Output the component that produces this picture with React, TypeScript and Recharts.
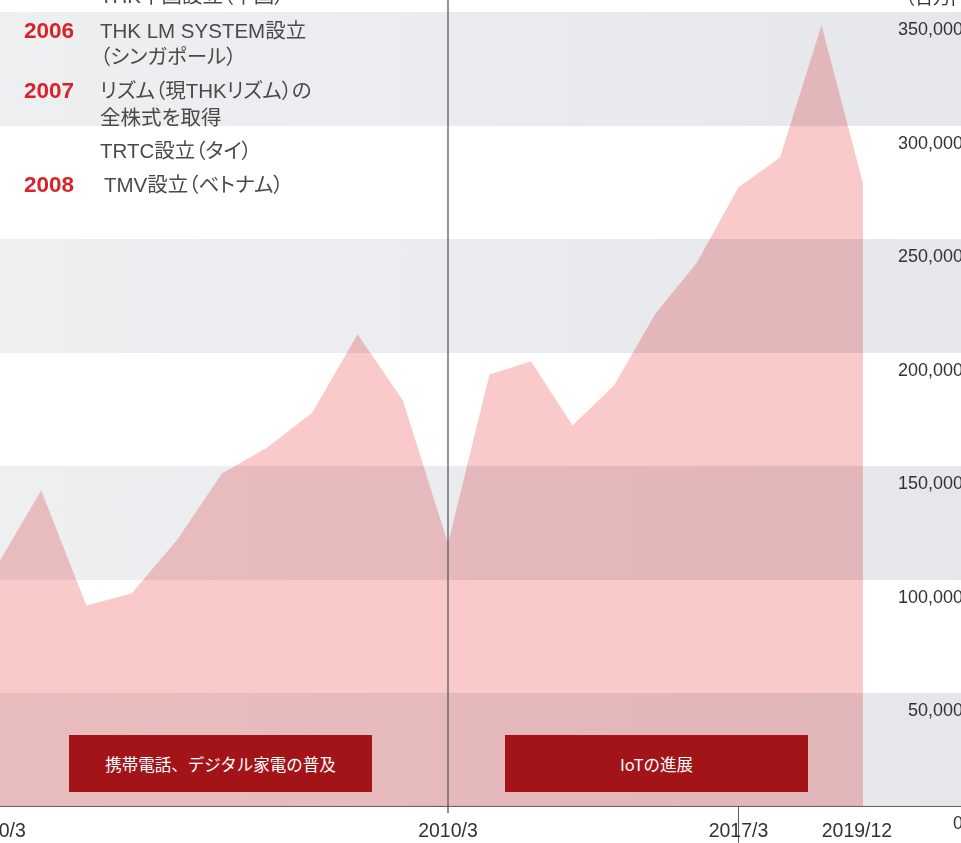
import React from 'react';
import { AreaChart, Area, XAxis, YAxis, CartesianGrid, ReferenceLine } from 'recharts';

// 売上高（百万円）
const earlyPeriods = ['2000/3', '2001/3', '2002/3', '2003/3', '2004/3', '2005/3', '2006/3', '2007/3', '2008/3', '2009/3', '2010/3'];
const earlySales = [105400, 139300, 88600, 93900, 117300, 146800, 158200, 173700, 208100, 179000, 115900];
const latePeriods = ['2010/3', '2011/3', '2012/3', '2013/3', '2014/3', '2015/3', '2016/3', '2017/3', '2018/3', '2019/3', '2019/12'];
const lateSales = [115900, 190400, 196200, 167900, 185600, 217300, 239800, 272900, 286100, 344300, 274600];

const yTicks = [0, 50000, 100000, 150000, 200000, 250000, 300000, 350000, 400000];
const earlyLabels = ['2000/3', '2010/3'];
const lateLabels = ['2017/3', '2019/12'];
const unitLabel = '（百万円）';

const noteYears = ['', '2006', '', '2007', '', '', '2008'];
const noteTexts = ['THK中国設立（中国）', 'THK LM SYSTEM設立', '（シンガポール）', 'リズム（現THKリズム）の', '全株式を取得', 'TRTC設立（タイ）', 'TMV設立（ベトナム）'];
const eraNames = ['携帯電話、デジタル家電の普及', 'IoTの進展'];

// layout
const noteCenters = [-4, 31, 57, 91, 117.5, 151, 185];
const eraBoxes = [{ left: 69, width: 303 }, { left: 505, width: 303 }];
const BASE_Y = 806;
const PLOT_H = 907.44; // 0 - 400,000
const AXIS_H = 37;
const CHART_TOP = BASE_Y - PLOT_H;
const CHART_H = PLOT_H + AXIS_H;

const font = "'Liberation Sans', 'Noto Sans CJK JP', sans-serif";
const pink = '#fac9c9';
const axisGrey = '#5a5a5a';

const earlyData = earlyPeriods.map((p, i) => ({ period: p, sales: earlySales[i] }));
const lateData = latePeriods.map((p, i) => ({ period: p, sales: lateSales[i] }));

const XTick = ({ x, y, payload }: any) => (
  <text x={payload.value === '2019/12' ? x - 6 : x} y={y} dy="0.71em" textAnchor="middle"
    fill="#333" fontSize={19.5} fontFamily={font}>{payload.value}</text>
);

const YTick = ({ x, y, payload }: any) =>
  payload.value >= 400000 ? null : (
    <text x={x - 12} y={y + 23} textAnchor="end" fill="#333" fontSize={18} fontFamily={font}>
      {payload.value.toLocaleString('en-US')}
    </text>
  );

export default function App() {
  return (
    <div style={{ position: 'absolute', left: 0, top: 0, width: 961, height: 843, overflow: 'hidden', background: '#fff', fontFamily: font }}>
      <style>{`.mult { mix-blend-mode: multiply; }`}</style>

      {/* 2000/3 - 2010/3 */}
      <div style={{ position: 'absolute', left: -44, top: CHART_TOP }}>
        <AreaChart width={532} height={CHART_H} data={earlyData} margin={{ top: 0, right: 40, bottom: 0, left: 40 }}>
          <defs>
            <linearGradient id="bandL" x1="0" y1="0" x2="1" y2="0">
              <stop offset="0%" stopColor="#eeeff1" />
              <stop offset="100%" stopColor="#ebecef" />
            </linearGradient>
          </defs>
          <CartesianGrid vertical={false} stroke="none" horizontalFill={['transparent', 'url(#bandL)']} fillOpacity={1} />
          <XAxis dataKey="period" height={AXIS_H} ticks={earlyLabels} interval={0} tick={<XTick />}
            tickLine={false} tickSize={0} tickMargin={17} axisLine={{ stroke: axisGrey, strokeWidth: 1 }} />
          <YAxis hide domain={[0, 400000]} ticks={yTicks} interval={0} />
          <Area type="linear" dataKey="sales" stroke="none" fill={pink} fillOpacity={1} className="mult"
            dot={false} activeDot={false} isAnimationActive={false} />
        </AreaChart>
      </div>

      {/* 2010/3 - 2019/12 */}
      <div style={{ position: 'absolute', left: 408, top: CHART_TOP }}>
        <AreaChart width={567} height={CHART_H} data={lateData} margin={{ top: 0, right: 0, bottom: 0, left: 40 }}>
          <defs>
            <linearGradient id="bandR" x1="0" y1="0" x2="1" y2="0">
              <stop offset="0%" stopColor="#eaebee" />
              <stop offset="100%" stopColor="#e6e7ea" />
            </linearGradient>
          </defs>
          <CartesianGrid vertical={false} stroke="none" horizontalFill={['transparent', 'url(#bandR)']} fillOpacity={1} />
          <XAxis dataKey="period" height={AXIS_H} ticks={lateLabels} interval={0} tick={<XTick />}
            padding={{ left: 0, right: 112 }}
            tickLine={false} tickSize={0} tickMargin={17} axisLine={{ stroke: axisGrey, strokeWidth: 1 }} />
          <YAxis orientation="right" mirror domain={[0, 400000]} ticks={yTicks} interval={0}
            axisLine={false} tickLine={false} tickSize={0} tickMargin={0} tick={<YTick />} />
          <Area type="linear" dataKey="sales" stroke="none" fill={pink} fillOpacity={1} className="mult"
            dot={false} activeDot={false} isAnimationActive={false} />
          <ReferenceLine segment={[{ x: '2010/3', y: -3000 }, { x: '2010/3', y: 400000 }]} stroke={axisGrey} strokeWidth={1.3} ifOverflow="visible" />
          <ReferenceLine segment={[{ x: '2017/3', y: 0 }, { x: '2017/3', y: -16000 }]} stroke={axisGrey} strokeWidth={1} ifOverflow="visible" />
        </AreaChart>
      </div>

      <div style={{ position: 'absolute', left: 897, top: -14, fontSize: 18, color: '#333', whiteSpace: 'nowrap', lineHeight: '24px' }}>{unitLabel}</div>

      {noteTexts.map((t, i) => (
        <React.Fragment key={i}>
          {noteYears[i] && (
            <div style={{ position: 'absolute', left: 24, top: noteCenters[i] - 13, lineHeight: '26px', fontSize: 22.5, fontWeight: 700, color: '#d8232b' }}>
              {noteYears[i]}
            </div>
          )}
          <div style={{ position: 'absolute', left: i === 6 ? 104 : 100, top: noteCenters[i] - 13, lineHeight: '26px', fontSize: 20.5, color: '#4a4a4a', whiteSpace: 'nowrap', fontFeatureSettings: '"palt"' }}>
            {t}
          </div>
        </React.Fragment>
      ))}

      {eraNames.map((name, i) => (
        <div key={name} style={{
          position: 'absolute', left: eraBoxes[i].left, top: 735, width: eraBoxes[i].width, height: 57,
          background: '#a31419', color: '#fff', fontSize: 16.5, display: 'flex', alignItems: 'center', justifyContent: 'center',
          fontFamily: "'Noto Sans CJK JP', sans-serif",
        }}>{name}</div>
      ))}
    </div>
  );
}
